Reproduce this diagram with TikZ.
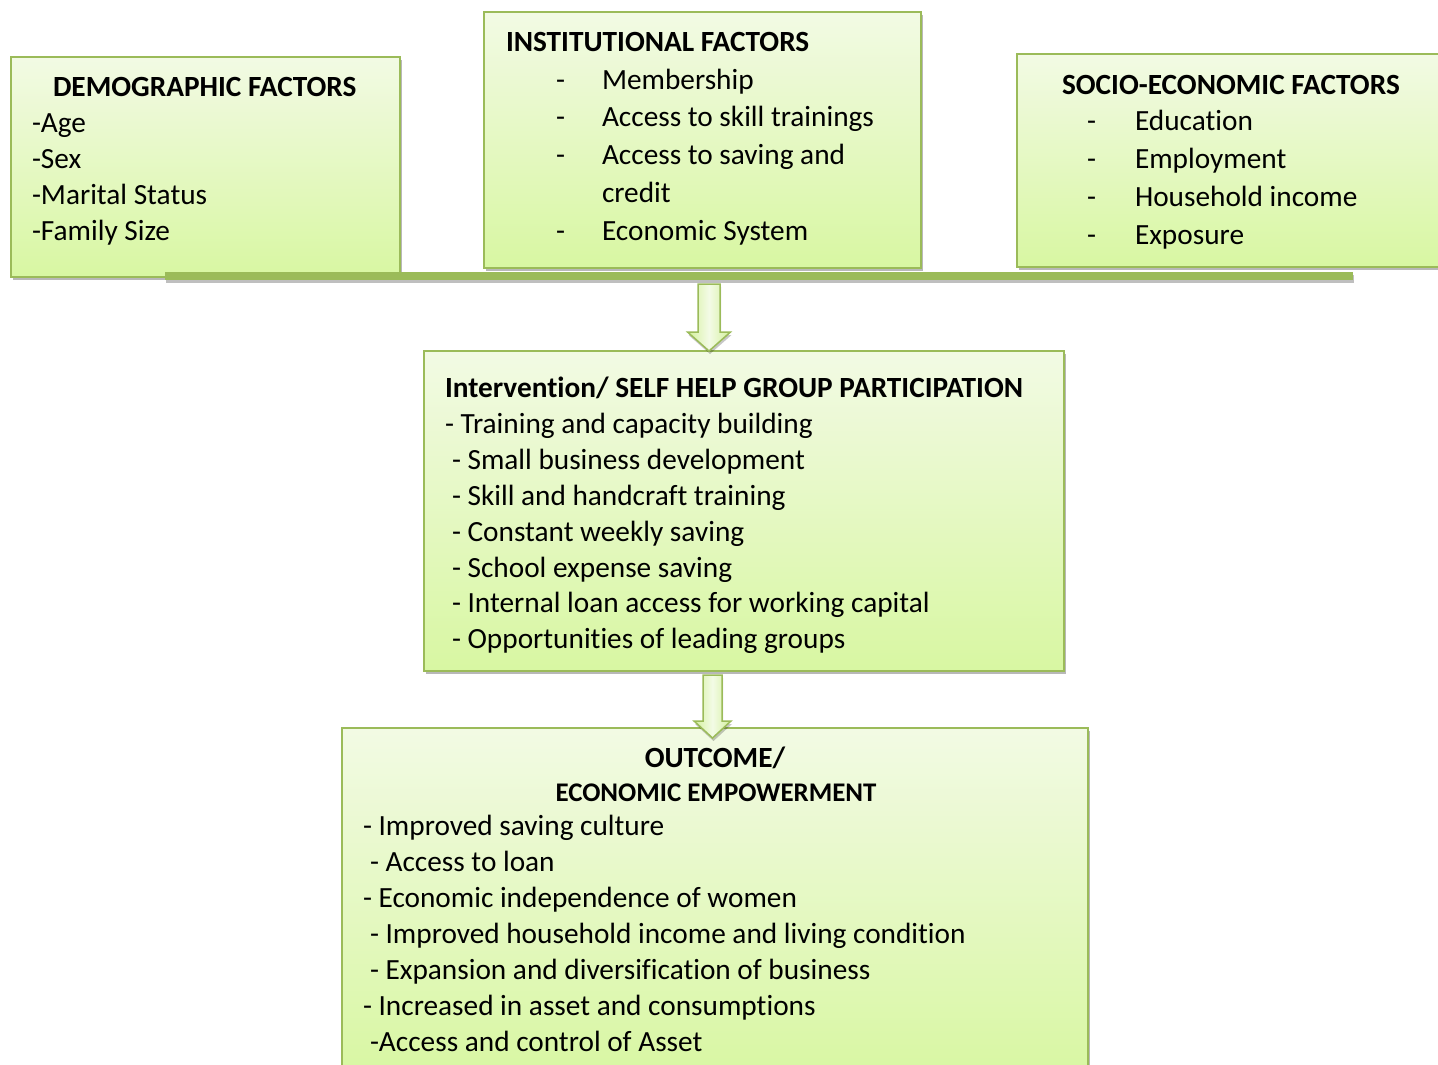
\documentclass[tikz,border=0pt]{standalone}
\usepackage{fontspec}
\setmainfont{Carlito}[Ligatures=NoCommon]
\usetikzlibrary{shadows,calc}
\definecolor{bord}{HTML}{9BBB59}
\definecolor{boxtop}{HTML}{F2FAE4}
\definecolor{boxbot}{HTML}{D8F7A2}
\definecolor{barc}{HTML}{9BBB59}
\definecolor{arrside}{HTML}{D3F09C}
\definecolor{arrmid}{HTML}{F3FBE6}
\begin{document}
\begin{tikzpicture}[x=1pt,y=-1pt,
  box/.style={draw=bord,line width=1.5pt,top color=boxtop,bottom color=boxbot,
    anchor=north west,inner sep=0pt,outer sep=0pt,
    drop shadow={shadow xshift=2pt,shadow yshift=-3pt,fill=black,opacity=0.28}},
  barstyle/.style={fill=barc,draw=none,anchor=north west,inner sep=0pt,outer sep=0pt,
    drop shadow={shadow xshift=1pt,shadow yshift=-3pt,fill=black,opacity=0.25}},
  blockarrow/.style={draw=bord,line width=1.5pt,line join=miter,
    left color=arrside,right color=arrside,middle color=arrmid,
    drop shadow={shadow xshift=1pt,shadow yshift=-3pt,fill=black,opacity=0.22}},
  txt/.style={anchor=base west,inner sep=0pt,outer sep=0pt,font=\fontsize{29.3}{36}\selectfont},
  ttl/.style={txt,font=\fontsize{29.3}{36}\selectfont\bfseries},
]
\useasboundingbox (0,0) rectangle (1438,1065);
\fill[white] (0,0) rectangle (1438,1065);

% boxes
\node[box,minimum width=389pt,minimum height=220pt] (demo) at (11,57) {};
\node[box,minimum width=437pt,minimum height=256pt] (inst) at (484,12) {};
\node[box,minimum width=440pt,minimum height=213pt] (socio) at (1017,54) {};
\node[box,minimum width=640pt,minimum height=320pt] (inter) at (424,351) {};
\node[box,minimum width=746pt,minimum height=350pt] (outc) at (342,728) {};

% bar
\node[barstyle,minimum width=1188pt,minimum height=8pt] (bar) at (165,272) {};

% arrows
\coordinate (a1s) at ($(bar.south west)+(544,4)$);
\coordinate (a1e) at (a1s |- inter.north);
\path[blockarrow] let \p1=(a1s), \p2=(a1e) in
  (\x1-11pt,\y1) -- (\x1+11pt,\y1) -- (\x1+11pt,\y2+19pt) -- (\x1+21.5pt,\y2+19pt)
  -- (\x2,\y2) -- (\x1-21.5pt,\y2+19pt) -- (\x1-11pt,\y2+19pt) -- cycle;
\coordinate (a2s) at ($(inter.south west)+(288.5,4)$);
\coordinate (a2e) at ($(a2s |- outc.north)+(0,10)$);
\path[blockarrow] let \p1=(a2s), \p2=(a2e) in
  (\x1-9.5pt,\y1) -- (\x1+9.5pt,\y1) -- (\x1+9.5pt,\y2+17pt) -- (\x1+18.5pt,\y2+17pt)
  -- (\x2,\y2) -- (\x1-18.5pt,\y2+17pt) -- (\x1-9.5pt,\y2+17pt) -- cycle;

% demographic
\node[ttl] (d0) at (53,96) {DEMOGRAPHIC FACTORS};
\node[txt] (d1) at (32,132) {-Age};
\node[txt] (d2) at (32,168) {-Sex};
\node[txt] (d3) at (32,204) {-Marital Status};
\node[txt] (d4) at (32,240) {-Family Size};

% institutional
\node[ttl] (i0) at (506,52) {INSTITUTIONAL FACTORS};
\node[txt] (i1d) at (556,89) {-};
\node[txt] (i1) at (602,89) {Membership};
\node[txt] (i2d) at (556,126) {-};
\node[txt] (i2) at (602,126) {Access to skill trainings};
\node[txt] (i3d) at (556,164) {-};
\node[txt] (i3) at (602,164) {Access to saving and};
\node[txt] (i4) at (602,202) {credit};
\node[txt] (i5d) at (556,240) {-};
\node[txt] (i5) at (602,240) {Economic System};

% socio-economic
\node[ttl] (s0) at (1062,94) {SOCIO-ECONOMIC FACTORS};
\node[txt] (s1d) at (1087,130) {-};
\node[txt] (s1) at (1135,130) {Education};
\node[txt] (s2d) at (1087,168) {-};
\node[txt] (s2) at (1135,168) {Employment};
\node[txt] (s3d) at (1087,206) {-};
\node[txt] (s3) at (1135,206) {Household income};
\node[txt] (s4d) at (1087,244) {-};
\node[txt] (s4) at (1135,244) {Exposure};

% intervention
\node[ttl] (n0) at (445,397) {Intervention/ SELF HELP GROUP PARTICIPATION};
\node[txt] (n1) at (445,433) {- Training and capacity building};
\node[txt] (n2) at (452,469) {- Small business development};
\node[txt] (n3) at (452,505) {- Skill and handcraft training};
\node[txt] (n4) at (452,541) {- Constant weekly saving};
\node[txt] (n5) at (452,577) {- School expense saving};
\node[txt] (n6) at (452,612) {- Internal loan access for working capital};
\node[txt] (n7) at (452,648) {- Opportunities of leading groups};

% outcome
\node[ttl,anchor=base] (o0) at (715,767) {OUTCOME/};
\node[ttl,anchor=base,font=\fontsize{26.9}{33}\selectfont\bfseries] (o00) at (716,801) {ECONOMIC EMPOWERMENT};
\node[txt] (o1) at (363,835) {- Improved saving culture};
\node[txt] (o2) at (370,871) {- Access to loan};
\node[txt] (o3) at (363,907) {- Economic independence of women};
\node[txt] (o4) at (370,943) {- Improved household income and living condition};
\node[txt] (o5) at (370,979) {- Expansion and diversification of business};
\node[txt] (o6) at (363,1015) {- Increased in asset and consumptions};
\node[txt] (o7) at (370,1051) {-Access and control of Asset};
\end{tikzpicture}
\end{document}
